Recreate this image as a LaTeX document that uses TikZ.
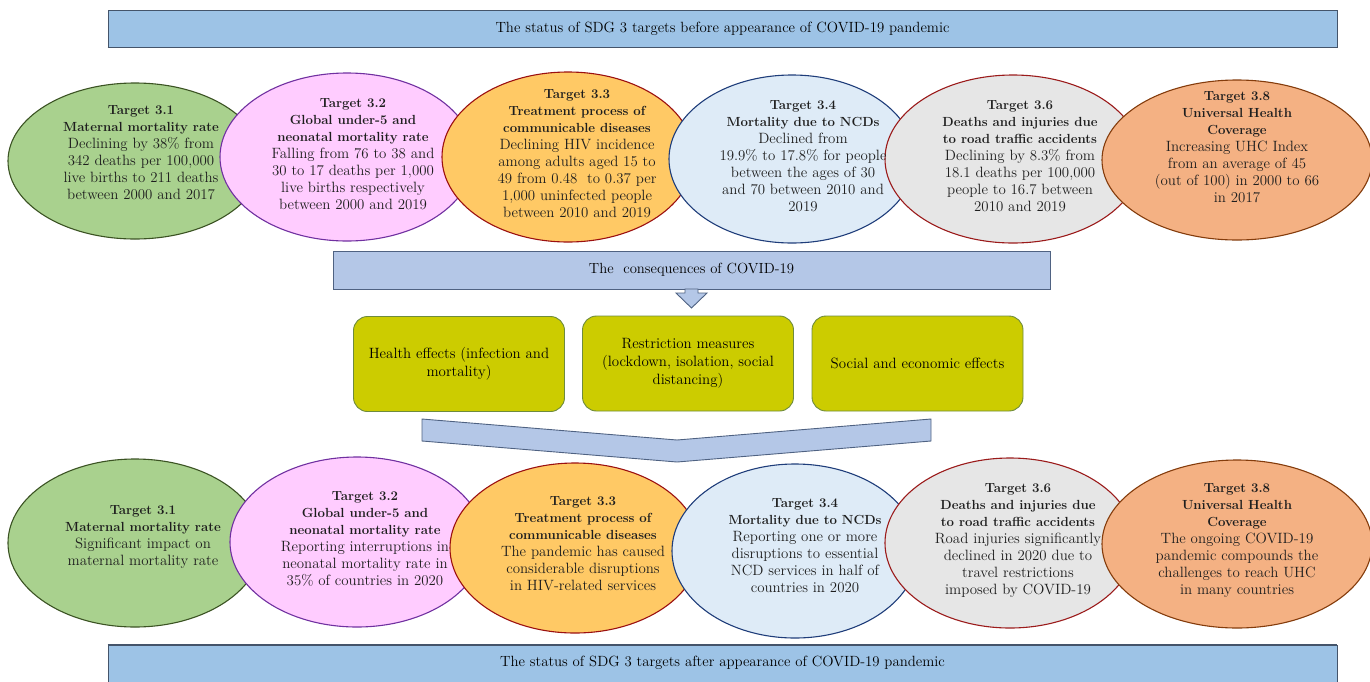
\documentclass[tikz,border=0pt]{standalone}
\usepackage{fontspec}
\usetikzlibrary{shapes.geometric}
\definecolor{banfill}{HTML}{9DC3E6}
\definecolor{bandraw}{HTML}{44546A}
\definecolor{consfill}{HTML}{B4C7E7}
\definecolor{consdraw}{HTML}{4F6282}
\definecolor{boxfill}{HTML}{CCCC00}
\definecolor{boxdraw}{HTML}{6E8B3D}
\definecolor{gfill}{HTML}{A9D18E}\definecolor{gdraw}{HTML}{3B5323}
\definecolor{pfill}{HTML}{FFCCFF}\definecolor{pdraw}{HTML}{7030A0}
\definecolor{ofill}{HTML}{FFC965}\definecolor{odraw}{HTML}{9B1010}
\definecolor{bfill}{HTML}{DEEBF7}\definecolor{bdraw}{HTML}{1F3D7A}
\definecolor{yfill}{HTML}{E6E6E6}\definecolor{ydraw}{HTML}{9B1B1B}
\definecolor{sfill}{HTML}{F4B183}\definecolor{sdraw}{HTML}{843C0C}
\definecolor{txt}{HTML}{1E1E1E}
\newcommand{\tgb}[1]{{\fontsize{13.2}{17}\selectfont\bfseries #1}}
\begin{document}
\begin{tikzpicture}[x=1pt,y=-1pt,
  ell/.style={ellipse, draw, line width=1.1pt, inner sep=0pt},
  etxt/.style={align=center, text=txt, font=\fontsize{14.9}{17}\selectfont, inner sep=0pt},
  banner/.style={draw=bandraw, fill=banfill, line width=0.9pt, minimum width=1229, minimum height=37, inner sep=0pt, font=\fontsize{14.8}{17}\selectfont},
  gbox/.style={draw=boxdraw, fill=boxfill, line width=0.9pt, rounded corners=14pt, minimum width=211, minimum height=95, align=center, inner sep=0pt, font=\fontsize{14.9}{18}\selectfont},
  blockarrow/.style={draw=consdraw, fill=consfill, line width=0.9pt}
]
\useasboundingbox (0,0) rectangle (1370,681);

% banners
\node[banner] (top) at (722.5,28.5) {The status of SDG 3 targets before appearance of COVID-19 pandemic};
\draw[bandraw, line width=1.6pt] (top.south west) -- (top.south east);
\node[banner, minimum height=40] (bot) at (722.5,665) {};
\draw[bandraw, line width=1.6pt] (bot.north west) -- (bot.north east);
\node[font=\fontsize{14.8}{17}\selectfont, inner sep=0pt] (bottxt) at (722.5,663) {The status of SDG 3 targets after appearance of COVID-19 pandemic};

% top row ellipses
\node[ell, fill=gfill, draw=gdraw, minimum width=254, minimum height=156] (a1) at (135,161) {};
\node[ell, fill=pfill, draw=pdraw, minimum width=254, minimum height=168] (a2) at (347,157) {};
\node[ell, fill=ofill, draw=odraw, minimum width=252, minimum height=170] (a3) at (568,157) {};
\node[ell, fill=bfill, draw=bdraw, minimum width=246, minimum height=168] (a4) at (792,159) {};
\node[ell, fill=yfill, draw=ydraw, minimum width=256, minimum height=168] (a6) at (1013,159) {};
\node[ell, fill=sfill, draw=sdraw, minimum width=270, minimum height=160] (a8) at (1237,160) {};

\node[etxt] (a1t) at (141,153) {\tgb{Target 3.1}\\\tgb{Maternal mortality rate}\\Declining by 38\% from\\342 deaths per 100,000\\live births to 211 deaths\\between 2000 and 2017};
\node[etxt] (a2t) at (353,154.5) {\tgb{Target 3.2}\\\tgb{Global under-5 and}\\\tgb{neonatal mortality rate}\\Falling from 76 to 38 and\\30 to 17 deaths per 1,000\\live births respectively\\between 2000 and 2019};
\node[etxt] (a3t) at (577,153.5) {\tgb{Target 3.3}\\\tgb{Treatment process of}\\\tgb{communicable diseases}\\Declining HIV incidence\\among adults aged 15 to\\49 from 0.48~ to 0.37 per\\1,000 uninfected people\\between 2010 and 2019};
\node[etxt] (a4t) at (803,156) {\tgb{Target 3.4}\\\tgb{Mortality due to NCDs}\\Declined from\\19.9\% to 17.8\% for people\\between the ages of 30\\and 70 between 2010 and\\2019};
\node[etxt] (a6t) at (1020,156) {\tgb{Target 3.6}\\\tgb{Deaths and injuries due}\\\tgb{to road traffic accidents}\\Declining by 8.3\% from\\18.1 deaths per 100,000\\people to 16.7 between\\2010 and 2019};
\node[etxt] (a8t) at (1237,147.5) {\tgb{Target 3.8}\\\tgb{Universal Health}\\\tgb{Coverage}\\Increasing UHC Index\\from an average of 45\\(out of 100) in 2000 to 66\\in 2017};

% consequences
\node[draw=consdraw, fill=consfill, line width=0.9pt, minimum width=717, minimum height=38, inner sep=0pt, font=\fontsize{14.7}{17}\selectfont] (cons) at (691.5,270) {The~ consequences of COVID-19};
\draw[blockarrow] (685,289) -- (698,289) -- (698,293) -- (707,293) -- (691.5,308) -- (676,293) -- (685,293) -- cycle;
\coordinate (arrtip) at (691.5,308);

\node[gbox] (b1) at (459,364) {Health effects (infection and\\mortality)};
\node[gbox] (b2) at (688,363.5) {Restriction measures\\(lockdown, isolation, social\\distancing)};
\node[gbox] (b3) at (917.5,363.5) {Social and economic effects};

\draw[blockarrow] (422,419) -- (677,440) -- (931,419) -- (931,441) -- (677,462) -- (422,441) -- cycle;

% bottom row ellipses
\node[ell, fill=gfill, draw=gdraw, minimum width=254, minimum height=168] (c1) at (135,543) {};
\node[ell, fill=pfill, draw=pdraw, minimum width=254, minimum height=170] (c2) at (357,542) {};
\node[ell, fill=ofill, draw=odraw, minimum width=250, minimum height=170] (c3) at (575,548) {};
\node[ell, fill=bfill, draw=bdraw, minimum width=246, minimum height=174] (c4) at (795,551) {};
\node[ell, fill=yfill, draw=ydraw, minimum width=250, minimum height=170] (c6) at (1010,543) {};
\node[ell, fill=sfill, draw=sdraw, minimum width=270, minimum height=168] (c8) at (1237,544) {};

\node[etxt] (c1t) at (143,537.5) {\tgb{Target 3.1}\\\tgb{Maternal mortality rate}\\Significant impact on\\maternal mortality rate};
\node[etxt] (c2t) at (365,539) {\tgb{Target 3.2}\\\tgb{Global under-5 and}\\\tgb{neonatal mortality rate}\\Reporting interruptions in\\neonatal mortality rate in\\35\% of countries in 2020};
\node[etxt] (c3t) at (583,543.5) {\tgb{Target 3.3}\\\tgb{Treatment process of}\\\tgb{communicable diseases}\\The pandemic has caused\\considerable disruptions\\in HIV-related services};
\node[etxt] (c4t) at (805,546) {\tgb{Target 3.4}\\\tgb{Mortality due to NCDs}\\Reporting one or more\\disruptions to essential\\NCD services in half of\\countries in 2020};
\node[etxt] (c6t) at (1018,541) {\tgb{Target 3.6}\\\tgb{Deaths and injuries due}\\\tgb{to road traffic accidents}\\Road injuries significantly\\declined in 2020 due to\\travel restrictions\\imposed by COVID-19};
\node[etxt] (c8t) at (1237,541) {\tgb{Target 3.8}\\\tgb{Universal Health}\\\tgb{Coverage}\\The ongoing COVID-19\\pandemic compounds the\\challenges to reach UHC\\in many countries};
\end{tikzpicture}
\end{document}
